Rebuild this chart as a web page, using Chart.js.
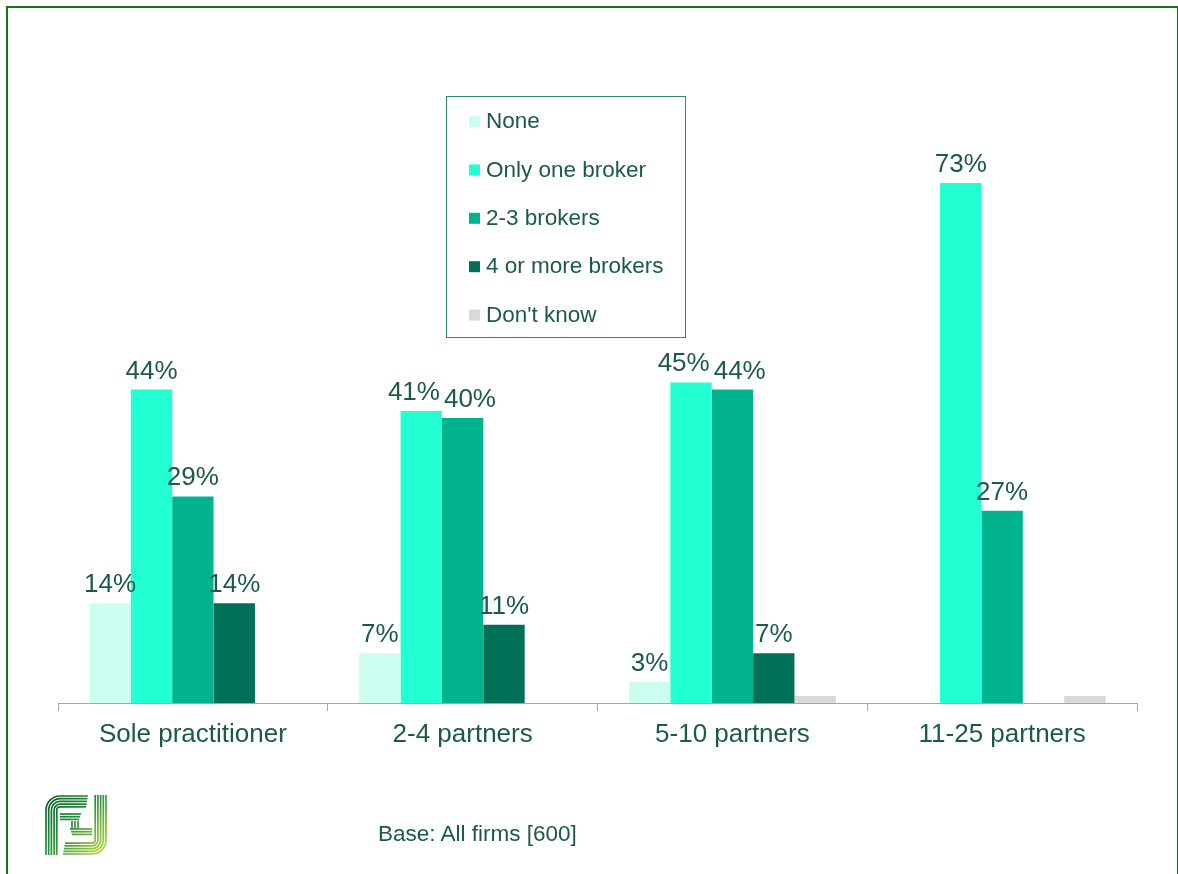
<!DOCTYPE html>
<html>
<head>
<meta charset="utf-8">
<script src="https://cdn.jsdelivr.net/npm/chart.js@4.4.1/dist/chart.umd.min.js"></script>
<style>
  html, body { margin: 0; padding: 0; background: #ffffff; }
  body { width: 1178px; height: 874px; position: relative; overflow: hidden; font-family: "Liberation Sans", Arial, sans-serif; }
  #frame { position: absolute; left: 6px; top: 6px; width: 1169px; height: 880px;
           border-left: 2px solid #167316; border-top: 2px solid #167316; border-right: 1px solid #167316; }
  #wrap { position: absolute; left: 0; top: 0; width: 1178px; height: 874px; }
  #base { position: absolute; left: 378px; top: 821px; font-size: 22.5px; color: #1b5a48; white-space: nowrap; }
  #logo { position: absolute; left: 45px; top: 795px; }
</style>
</head>
<body>
<div id="frame"></div>
<div id="wrap"><canvas id="chart" width="1178" height="874"></canvas></div>
<svg id="logo" width="62" height="60" viewBox="0 0 62 60">
  <defs>
    <linearGradient id="lg" gradientUnits="userSpaceOnUse" x1="0" y1="0" x2="62" y2="60">
      <stop offset="0" stop-color="#0a5a2a"/>
      <stop offset="0.45" stop-color="#23903a"/>
      <stop offset="1" stop-color="#c6de3e"/>
    </linearGradient>
  </defs>
  <g id="logoLines" fill="none" stroke="url(#lg)" stroke-width="1.7"></g>
</svg>
<div id="base">Base: All firms [600]</div>
<script>
// Firm size groups and share of firms by number of brokers used (%)
const categories = ['Sole practitioner', '2-4 partners', '5-10 partners', '11-25 partners'];
const seriesNames = ['None', 'Only one broker', '2-3 brokers', '4 or more brokers', "Don't know"];
const noneVals     = [14, 7, 3, 0];
const oneBroker    = [44, 41, 45, 73];
const twoThree     = [29, 40, 44, 27];
const fourOrMore   = [14, 11, 7, 0];
const dontKnow     = [0, 0, 1, 1];
const seriesColors = ['#cdfcf0', '#22ffd2', '#00b38f', '#007158', '#d9d9d9'];
const showValues   = [true, true, true, true, false];

const textColor = '#1b5a48';

// Logo: nested line work forming the stylised letters
(function buildLogo() {
  const g = document.getElementById('logoLines');
  const ns = 'http://www.w3.org/2000/svg';
  const add = d => { const p = document.createElementNS(ns, 'path'); p.setAttribute('d', d); g.appendChild(p); };
  const step = 2.7;
  for (let i = 0; i < 5; i++) {
    const o = 1 + i * step;
    const r = 14 - i * step;
    // left stem rising into the top bar
    add(`M ${o} 60 L ${o} ${o + r} A ${r} ${r} 0 0 1 ${o + r} ${o} L ${43 - i * 0.5} ${o}`);
    // right stem curving into the bottom bar
    const x = 61 - i * step, y = 59 - i * step;
    add(`M ${x} 0 L ${x} ${y - r} A ${r} ${r} 0 0 1 ${x - r} ${y} L ${18 + i * 0.5} ${y}`);
  }
  // cross bars and the centre stroke
  for (let i = 0; i < 3; i++) {
    add(`M 15 ${19 + i * step} L ${36 - i} ${19 + i * step}`);
    add(`M ${25 + i} ${34 + i * step} L 47 ${34 + i * step}`);
  }
  add('M 27 26 L 27 34');
  add('M 30 26 L 30 34');
  add('M 33 26 L 33 34');
})();

// Value labels above the bars; neighbouring labels at a similar height are spread apart
const valueLabels = {
  id: 'valueLabels',
  afterDatasetsDraw(chart) {
    const ctx = chart.ctx;
    ctx.save();
    const size = 26;
    ctx.font = size + 'px "Liberation Sans", Arial, sans-serif';
    ctx.fillStyle = textColor;
    ctx.textAlign = 'center';
    ctx.textBaseline = 'alphabetic';
    const minGap = 4;
    chart.data.labels.forEach((_, i) => {
      const items = [];
      chart.data.datasets.forEach((ds, di) => {
        if (!showValues[di]) return;
        const v = ds.data[i];
        if (!v) return;
        const bar = chart.getDatasetMeta(di).data[i];
        const text = v + '%';
        items.push({ text, x: bar.x, y: bar.y - 11, w: ctx.measureText(text).width });
      });
      for (let k = 1; k < items.length; k++) {
        const a = items[k - 1], b = items[k];
        if (Math.abs(a.y - b.y) < size) {
          const overlap = (a.x + a.w / 2 + minGap) - (b.x - b.w / 2);
          if (overlap > 0) { a.x -= overlap / 2; b.x += overlap / 2; }
        }
      }
      items.forEach(it => ctx.fillText(it.text, it.x, it.y));
    });
    ctx.restore();
  }
};

const boxLegend = {
  id: 'boxLegend',
  afterDraw(chart) {
    const ctx = chart.ctx;
    ctx.save();
    ctx.strokeStyle = '#2b8a70';
    ctx.lineWidth = 1;
    ctx.strokeRect(446.5, 96.5, 239, 241);
    ctx.font = '22.5px "Liberation Sans", Arial, sans-serif';
    ctx.textBaseline = 'middle';
    ctx.textAlign = 'left';
    chart.data.datasets.forEach((ds, i) => {
      const cy = 121 + i * 48.4;
      ctx.fillStyle = ds.backgroundColor;
      ctx.fillRect(469, cy - 5, 11, 11);
      ctx.fillStyle = textColor;
      ctx.fillText(ds.label, 486, cy + 1);
    });
    ctx.restore();
  }
};

const allValues = [noneVals, oneBroker, twoThree, fourOrMore, dontKnow];

new Chart(document.getElementById('chart'), {
  type: 'bar',
  data: {
    labels: categories,
    datasets: seriesNames.map((name, i) => ({
      label: name,
      data: allValues[i],
      backgroundColor: seriesColors[i],
      borderWidth: 0,
      categoryPercentage: 0.767,
      barPercentage: 1.0
    }))
  },
  options: {
    responsive: false,
    animation: false,
    devicePixelRatio: 1,
    layout: { padding: { left: 58, right: 41, top: 133, bottom: 111 } },
    plugins: { legend: { display: false }, tooltip: { enabled: false } },
    scales: {
      x: {
        grid: { display: true, drawOnChartArea: false, drawTicks: true, tickLength: 8, color: '#a6a6a6', offset: true },
        border: { display: true, color: '#a6a6a6', width: 1 },
        ticks: { color: textColor, font: { size: 26, family: '"Liberation Sans", Arial, sans-serif' }, padding: 8, maxRotation: 0 },
        afterFit(scale) { scale.height = 60; }
      },
      y: { display: false, min: 0, max: 80 }
    }
  },
  plugins: [valueLabels, boxLegend]
});
</script>
</body>
</html>
